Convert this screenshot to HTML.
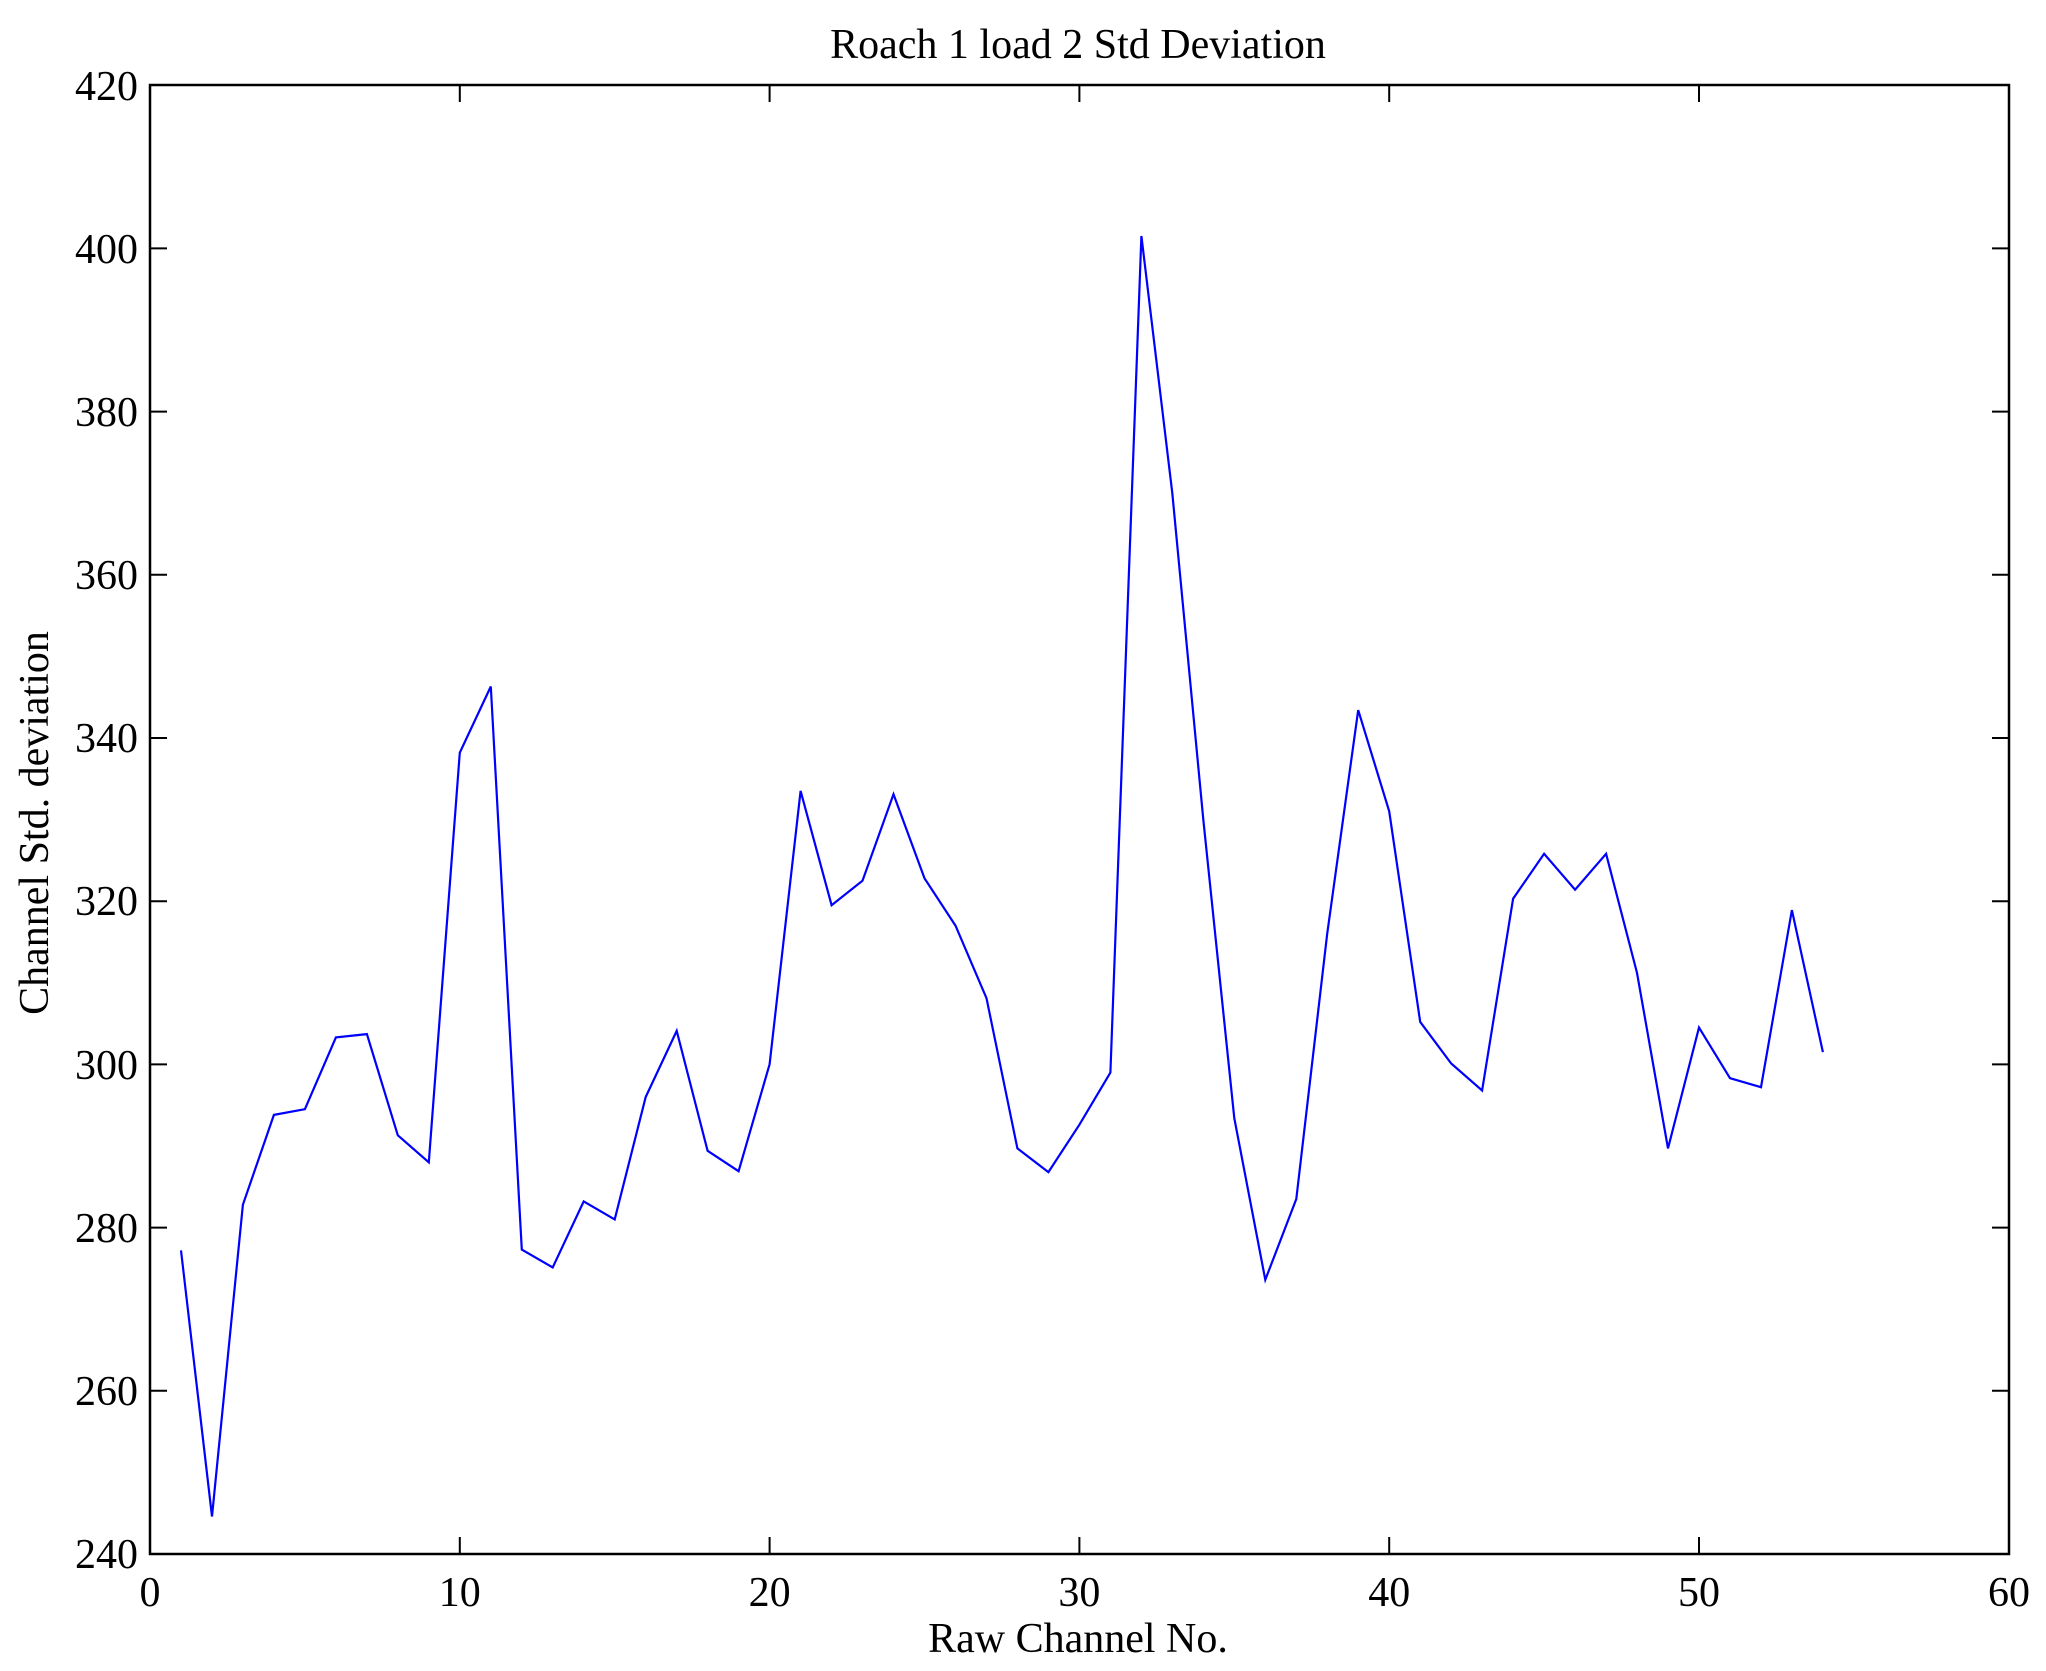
<!DOCTYPE html>
<html><head><meta charset="utf-8"><style>body{margin:0;background:#fff}svg{display:block}</style></head><body>
<svg width="2046" height="1671" viewBox="0 0 2046 1671" xmlns="http://www.w3.org/2000/svg" font-family="Liberation Serif, serif">
<rect width="2046" height="1671" fill="#fff"/>
<polyline fill="none" stroke="#0000ff" stroke-width="2.2" points="181.0,1250.4 212.0,1516.5 242.9,1204.7 273.9,1114.9 304.9,1109.2 335.9,1037.4 366.9,1034.1 397.8,1135.3 428.8,1162.3 459.8,752.6 490.8,686.5 521.8,1249.6 552.7,1267.5 583.7,1201.4 614.7,1219.4 645.7,1097 676.7,1030.9 707.6,1150.8 738.6,1171.2 769.6,1064.3 800.6,790.9 831.6,905.2 862.5,880.7 893.5,794.2 924.5,878.3 955.5,925.6 986.5,998.2 1017.4,1148.4 1048.4,1172.1 1079.4,1124.7 1110.4,1072.5 1141.4,236 1172.3,493.1 1203.3,819.5 1234.3,1118.2 1265.3,1279.8 1296.3,1199 1327.2,933.8 1358.2,710.1 1389.2,811.3 1420.2,1021.9 1451.2,1063.5 1482.1,1090.5 1513.1,898.7 1544.1,853.8 1575.1,889.7 1606.1,853.8 1637.0,972.9 1668.0,1148.4 1699.0,1027.6 1730.0,1078.2 1761.0,1087.2 1791.9,910.1 1822.9,1052.1"/>
<g stroke="#000" stroke-width="2">
<path d="M459.8,1554v-17M769.6,1554v-17M1079.4,1554v-17M1389.2,1554v-17M1699,1554v-17M459.8,85v17M769.6,85v17M1079.4,85v17M1389.2,85v17M1699,85v17"/>
<path d="M150,1390.8h17M150,1227.6h17M150,1064.4h17M150,901.2h17M150,738h17M150,574.8h17M150,411.6h17M150,248.4h17M2009,1390.8h-17M2009,1227.6h-17M2009,1064.4h-17M2009,901.2h-17M2009,738h-17M2009,574.8h-17M2009,411.6h-17M2009,248.4h-17"/>
</g>
<rect x="150" y="85" width="1859" height="1469" fill="none" stroke="#000" stroke-width="2.5"/>
<g font-size="42" text-anchor="end" fill="#000">
<text x="138" y="100">420</text><text x="138" y="263">400</text><text x="138" y="426">380</text><text x="138" y="589">360</text><text x="138" y="752">340</text><text x="138" y="915">320</text><text x="138" y="1079">300</text><text x="138" y="1242">280</text><text x="138" y="1405">260</text><text x="138" y="1568">240</text>
</g>
<g font-size="42" text-anchor="middle" fill="#000">
<text x="150" y="1606">0</text><text x="459.8" y="1606">10</text><text x="769.6" y="1606">20</text><text x="1079.4" y="1606">30</text><text x="1389.2" y="1606">40</text><text x="1699" y="1606">50</text><text x="2009" y="1606">60</text>
<text x="1078" y="1652" font-size="42">Raw Channel No.</text>
<text x="1078" y="58" font-size="42">Roach 1 load 2 Std Deviation</text>
<text transform="translate(48,823) rotate(-90)" font-size="42">Channel Std. deviation</text>
</g>
</svg>
</body></html>
